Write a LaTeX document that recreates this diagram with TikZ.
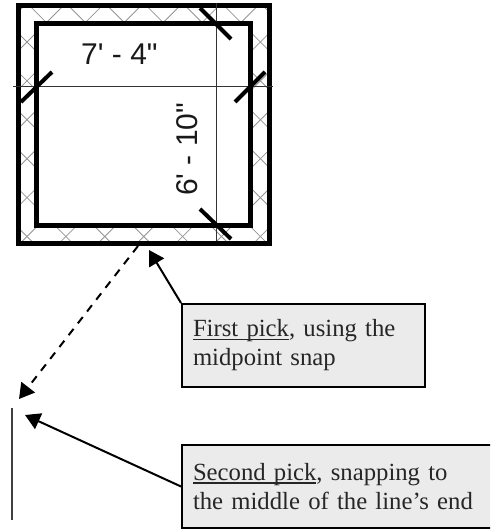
\documentclass[tikz,border=0pt]{standalone}
\usepackage{fontspec}
\setmainfont{Liberation Serif}
\newfontfamily\dimfont{Liberation Sans}
\usetikzlibrary{arrows.meta}
\newlength\noteulw
\newcommand\noteul[1]{\settowidth{\noteulw}{#1}\leavevmode\rlap{\rule[-3.4pt]{\noteulw}{1.4pt}}#1}
\tikzset{
  wall/.style={line width=5pt,black,line join=miter},
  tick/.style={line width=4pt,black},
  dimline/.style={line width=1pt,black!80},
  hatch/.style={line width=0.8pt,black!42},
  note/.style={draw=black,line width=2pt,fill=black!8,align=left,inner sep=0pt,
    font=\fontsize{24.7}{29}\selectfont,text=black!85},
  pointer/.style={line width=2pt,black,-{Triangle[length=15pt,width=17pt]}},
  dimtext/.style={font=\dimfont\fontsize{30}{30}\selectfont,inner sep=0pt,text=black!90},
}
\begin{document}
\begin{tikzpicture}[x=1pt,y=-1pt]
\useasboundingbox (0,0) rectangle (490,529);
\clip (0,0) rectangle (490,529);
% hatch
\begin{scope}
  \clip (18,6) rectangle (269,243);
  \foreach \k in {-6,...,10} {
    \pgfmathsetmacro{\c}{-15+38.9*\k}
    \draw[hatch] (\c-20,-20) -- (\c+300,300);
  }
  \foreach \k in {-2,...,16} {
    \pgfmathsetmacro{\c}{69+38.9*\k}
    \draw[hatch] (\c+20,-20) -- (\c-300,300);
  }
  \fill[white] (36.5,24) rectangle (250.5,225);
\end{scope}
% walls
\draw[wall] (18,6) rectangle (269,243);
\draw[wall] (36.5,24) rectangle (250.5,225);
% dimension lines
\draw[dimline] (13,87) -- (273,87);
\draw[dimline] (216,3) -- (216,241);
% ticks
\draw[tick] (21,102) -- (52,72);
\draw[tick] (235,102) -- (265,72);
\draw[tick] (200,8) -- (231,39);
\draw[tick] (200,209) -- (231,239);
% dimension text
\node[dimtext,anchor=base west] (dimA) at (81,65) {7' - 4"};
\node[dimtext,anchor=base west,rotate=90] (dimB) at (197,196) {6' - 10"};
% the short line
\coordinate (lineTop) at (12,408);
\coordinate (lineBot) at (12,520);
\draw[line width=1.1pt,black!75] (lineTop) -- (lineBot);
% notes
\node[note,minimum width=243pt,minimum height=83pt,text width=221pt] (first) at (303.5,345.5)
  {\noteul{First pick}, using the\\midpoint snap};
\node[note,minimum width=320pt,minimum height=83pt,text width=298pt] (second) at (342,486.5)
  {\noteul{Second pick}, snapping to\\the middle of the line’s end};
% pointers
\coordinate (firstTip) at (149,250);
\coordinate (secondTip) at (25,415);
\coordinate (dashStart) at (138,246);
\coordinate (dashTip) at (19,399);
\draw[pointer] (first.north west) -- (firstTip);
\draw[pointer] (second.west) -- (secondTip);
\draw[pointer,dash pattern=on 8pt off 7pt] (dashStart) -- (dashTip);
\end{tikzpicture}
\end{document}
